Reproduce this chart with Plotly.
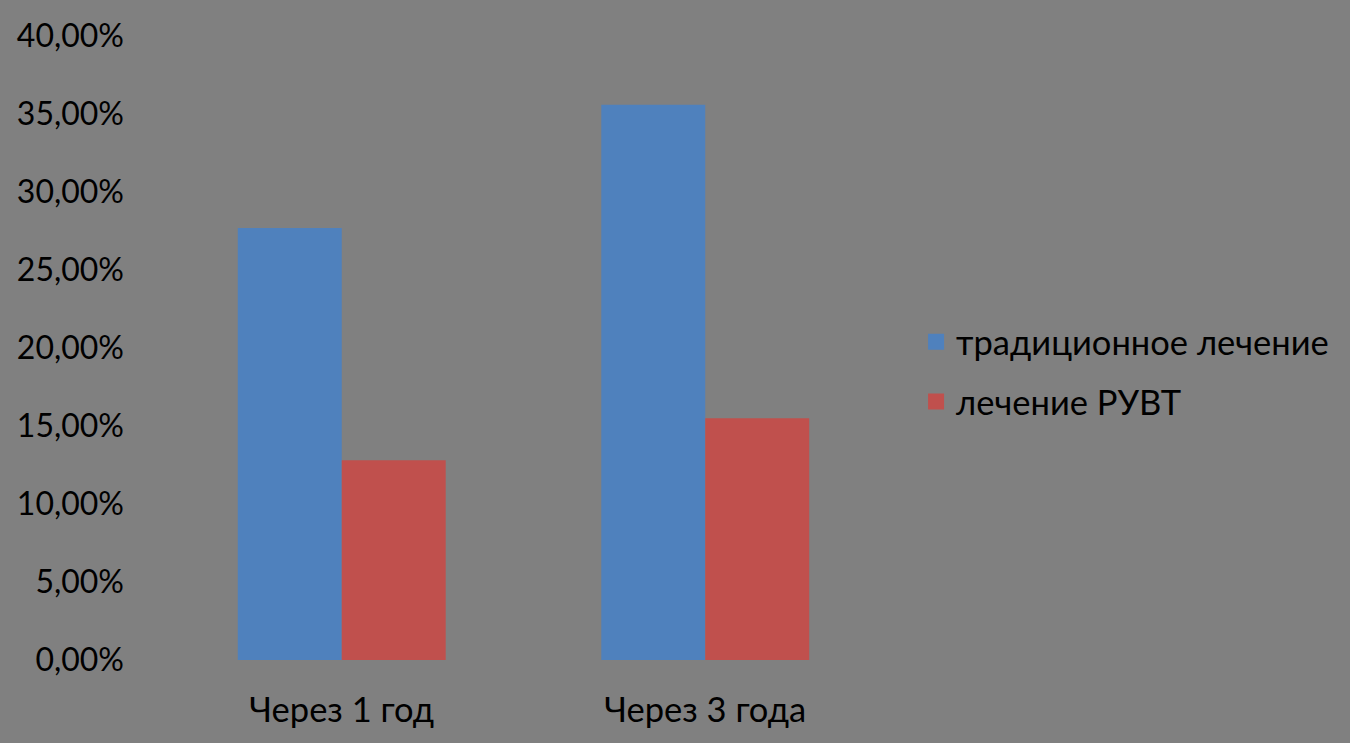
import plotly.graph_objects as go

categories = ["Через 1 год", "Через 3 года"]
series_names = ["традиционное лечение", "лечение РУВТ"]
traditional = [0.277, 0.356]
ruvt = [0.128, 0.155]
colors = ["#4F81BD", "#C0504D"]
tick_values = [0, 0.05, 0.10, 0.15, 0.20, 0.25, 0.30, 0.35, 0.40]

FONT = "Lato"

fig = go.Figure()
for name, vals, col in zip(series_names, [traditional, ruvt], colors):
    fig.add_trace(go.Bar(x=categories, y=vals, name=name, showlegend=False,
                         marker=dict(color=col, line=dict(width=0))))
# legend entries with larger square swatches
for name, col in zip(series_names, colors):
    fig.add_trace(go.Scatter(x=[None], y=[None], mode="markers", name=name, legendgroup=name,
                             marker=dict(symbol="square", size=16, color=col, line=dict(width=0))))

fig.update_layout(
    width=1350, height=743,
    paper_bgcolor="#808080", plot_bgcolor="#808080",
    barmode="group", bargap=0.428, bargroupgap=0,
    separators=", ",
    margin=dict(l=160, r=463, t=36, b=83),
    font=dict(family=FONT, color="black", size=30),
    showlegend=True,
    legend=dict(x=1.04, y=0.462, xanchor="left", yanchor="middle",
                font=dict(size=34.5, family=FONT, color="black"),
                bgcolor="rgba(0,0,0,0)", traceorder="grouped", tracegroupgap=12,
                itemwidth=30, itemsizing="trace"),
    xaxis=dict(showgrid=False, showline=False, zeroline=False, ticks="",
               tickfont=dict(size=34.5, family=FONT, color="black"), ticklabelstandoff=26),
    yaxis=dict(range=[0, 0.40], tickvals=tick_values, tickformat=".2%",
               showgrid=False, showline=False, zeroline=False, ticks="",
               tickfont=dict(size=32, family=FONT, color="black"), ticklabelstandoff=35),
)

fig.write_html("out.html")
